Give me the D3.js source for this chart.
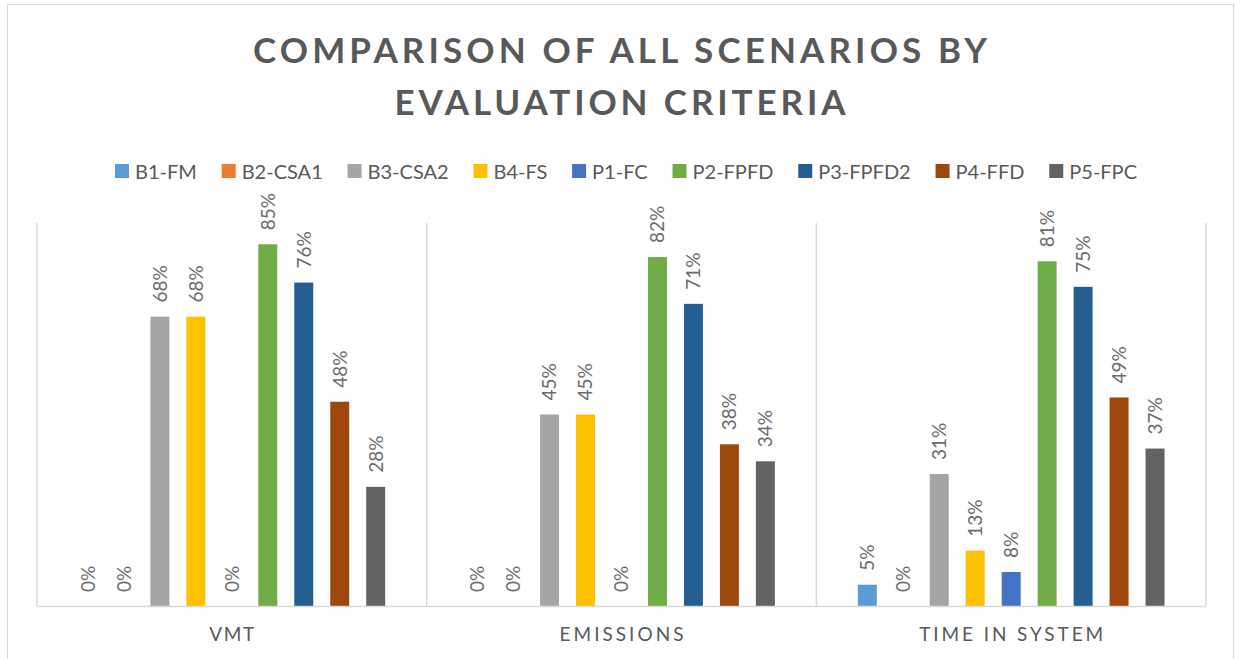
<!DOCTYPE html>
<html>
<head>
<meta charset="utf-8">
<script src="https://cdn.jsdelivr.net/npm/d3@7"></script>
<style>
  html, body { margin: 0; padding: 0; background: #fff; }
  svg { display: block; }
  text { font-family: Lato, "Open Sans", sans-serif; }
</style>
</head>
<body>
<svg id="chart" width="1236" height="659"></svg>
<script>
const titleLines = ["COMPARISON OF ALL SCENARIOS BY", "EVALUATION CRITERIA"];
const categories = ["VMT", "EMISSIONS", "TIME IN SYSTEM"];
const seriesNames = ["B1-FM", "B2-CSA1", "B3-CSA2", "B4-FS", "P1-FC", "P2-FPFD", "P3-FPFD2", "P4-FFD", "P5-FPC"];
const seriesColors = ["#5B9BD5", "#ED7D31", "#A5A5A5", "#FFC000", "#4472C4", "#70AD47", "#255E91", "#9E480E", "#636363"];
// values per series, in category order [VMT, EMISSIONS, TIME IN SYSTEM]
const B1_FM    = [0.00, 0.00, 0.05];
const B2_CSA1  = [0.00, 0.00, 0.00];
const B3_CSA2  = [0.68, 0.45, 0.31];
const B4_FS    = [0.68, 0.45, 0.13];
const P1_FC    = [0.00, 0.00, 0.08];
const P2_FPFD  = [0.85, 0.82, 0.81];
const P3_FPFD2 = [0.76, 0.71, 0.75];
const P4_FFD   = [0.48, 0.38, 0.49];
const P5_FPC   = [0.28, 0.34, 0.37];
const seriesValues = [B1_FM, B2_CSA1, B3_CSA2, B4_FS, P1_FC, P2_FPFD, P3_FPFD2, P4_FFD, P5_FPC];
const yMax = 0.9;

const svg = d3.select("#chart");
const textColor = "#595959";
const lineColor = "#D9D9D9";

// chart border
svg.append("rect").attr("x", 7.5).attr("y", 4.5).attr("width", 1226).attr("height", 665)
  .attr("fill", "#fff").attr("stroke", lineColor).attr("stroke-width", 1);

// title
const titleG = svg.append("g");
const titleWidths = [734, 451];
titleLines.forEach((t, i) => {
  titleG.append("text")
    .attr("x", 620).attr("y", 63 + i * 52)
    .attr("text-anchor", "middle")
    .attr("font-size", 35).attr("font-weight", 700)
    .attr("fill", textColor)
    .attr("textLength", titleWidths[i]).attr("lengthAdjust", "spacing")
    .text(t);
});

// plot geometry
const plotLeft = 37, plotRight = 1206, plotTop = 223, plotBottom = 606;
const x0 = d3.scaleBand().domain(categories).range([plotLeft, plotRight]).padding(0);
const x1 = d3.scaleBand().domain(seriesNames).range([0, x0.bandwidth()])
  .paddingInner(17 / 36).paddingOuter(1.153);
const y = d3.scaleLinear().domain([0, yMax]).range([plotBottom, plotTop]);

// category separator ticks (vertical lines)
const bounds = categories.map(c => x0(c)).concat([plotRight]);
svg.append("g").selectAll("line").data(bounds).join("line")
  .attr("x1", d => d).attr("x2", d => d)
  .attr("y1", plotTop).attr("y2", plotBottom)
  .attr("stroke", lineColor).attr("stroke-width", 1.5);

// bars
const data = [];
categories.forEach((c, ci) => {
  seriesNames.forEach((s, si) => {
    data.push({ cat: c, series: s, color: seriesColors[si], value: seriesValues[si][ci] });
  });
});

const groups = svg.append("g");
groups.selectAll("rect").data(data).join("rect")
  .attr("x", d => x0(d.cat) + x1(d.series))
  .attr("width", x1.bandwidth())
  .attr("y", d => y(d.value))
  .attr("height", d => y(0) - y(d.value))
  .attr("fill", d => d.color);

// baseline axis
svg.append("line")
  .attr("x1", plotLeft).attr("x2", plotRight)
  .attr("y1", plotBottom + 0.5).attr("y2", plotBottom + 0.5)
  .attr("stroke", lineColor).attr("stroke-width", 1.5);

// data labels
const fmt = d3.format(".0%");
groups.selectAll("text.lbl").data(data).join("text")
  .attr("class", "lbl")
  .attr("transform", d => {
    const cx = x0(d.cat) + x1(d.series) + x1.bandwidth() / 2;
    return `translate(${cx},${y(d.value) - 14}) rotate(-90)`;
  })
  .attr("dy", "0.36em")
  .attr("text-anchor", "start")
  .attr("font-size", 19)
  .attr("fill", "#6b6b6b")
  .text(d => fmt(d.value));

// category labels
const catWidths = [45, 124, 184];
svg.append("g").selectAll("text").data(categories).join("text")
  .attr("x", d => x0(d) + x0.bandwidth() / 2)
  .attr("y", 641)
  .attr("text-anchor", "middle")
  .attr("font-size", 19)
  .attr("fill", textColor)
  .attr("textLength", (d, i) => catWidths[i]).attr("lengthAdjust", "spacing")
  .text(d => d);

// legend
const legend = svg.append("g");
const legendLeft = 115, legendRight = 1137, sq = 14, sqGap = 6;
const items = seriesNames.map((s, i) => {
  const g = legend.append("g");
  g.append("rect").attr("width", sq).attr("height", sq).attr("y", 164).attr("fill", seriesColors[i]);
  const t = g.append("text").attr("x", sq + sqGap).attr("y", 178.5)
    .attr("font-size", 20).attr("fill", textColor).text(s);
  return { g, w: sq + sqGap + t.node().getComputedTextLength() };
});
const totalW = d3.sum(items, d => d.w);
const gap = (legendRight - legendLeft - totalW) / (items.length - 1);
let cx = legendLeft;
items.forEach(it => { it.g.attr("transform", `translate(${cx},0)`); cx += it.w + gap; });
</script>
</body>
</html>
